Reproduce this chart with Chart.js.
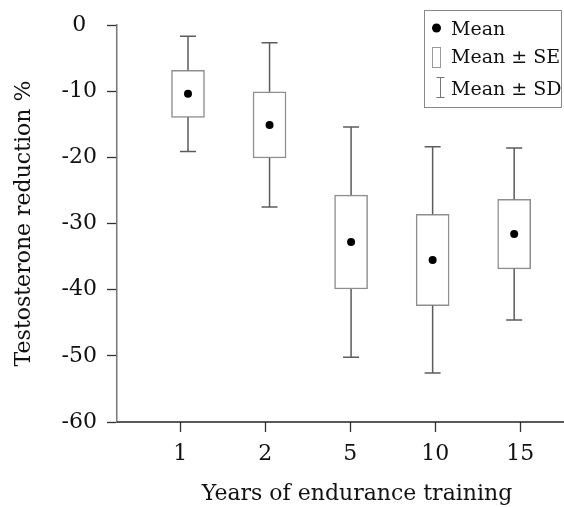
<!DOCTYPE html>
<html>
<head>
<meta charset="utf-8">
<script src="https://cdn.jsdelivr.net/npm/chart.js@4/dist/chart.umd.min.js"></script>
<style>
  html, body { margin: 0; padding: 0; background: #fff; overflow: hidden; }
  #wrap { width: 564px; height: 507px; }
</style>
</head>
<body>
<div id="wrap"><canvas id="chart" width="564" height="507"></canvas></div>
<script>
// Years of endurance training (groups)
const years = ['1', '2', '5', '10', '15'];
// Mean testosterone reduction (%) per group
const meanReduction = [-10.4, -15.1, -32.8, -35.5, -31.6];
// Standard error of the mean (%)
const seReduction = [3.55, 5.0, 7.1, 6.9, 5.25];
// Standard deviation (%)
const sdReduction = [8.7, 12.4, 17.4, 17.1, 13.0];
// Y-axis tick values
const yTicks = [0, -10, -20, -30, -40, -50, -60];

const FONT = "'DejaVu Serif', serif";
const idx = years.map((_, i) => i);

// Whiskers (mean ± SD) and the framed key, drawn with the chart's scales
const extras = {
  id: 'extras',
  afterDatasetsDraw(chart) {
    const { ctx } = chart;
    const xs = chart.scales.xd, ys = chart.scales.y;
    ctx.save();
    ctx.strokeStyle = '#5c5c5c';
    ctx.lineWidth = 1.5;
    const cap = 8;
    idx.forEach(i => {
      const x = xs.getPixelForValue(i);
      const m = meanReduction[i], se = seReduction[i], sd = sdReduction[i];
      const yBoxTop = ys.getPixelForValue(m + se);
      const yBoxBot = ys.getPixelForValue(m - se);
      const yTop = ys.getPixelForValue(m + sd);
      const yBot = ys.getPixelForValue(m - sd);
      ctx.beginPath();
      ctx.moveTo(x, yBoxTop); ctx.lineTo(x, yTop);
      ctx.moveTo(x - cap, yTop); ctx.lineTo(x + cap, yTop);
      ctx.moveTo(x, yBoxBot); ctx.lineTo(x, yBot);
      ctx.moveTo(x - cap, yBot); ctx.lineTo(x + cap, yBot);
      ctx.stroke();
    });
    ctx.restore();
  },
  afterDraw(chart) {
    const { ctx } = chart;
    const area = chart.chartArea;
    ctx.save();
    // x baseline across the full width
    ctx.strokeStyle = '#222';
    ctx.lineWidth = 1.3;
    ctx.beginPath();
    ctx.moveTo(area.left, area.bottom);
    ctx.lineTo(chart.width, area.bottom);
    ctx.stroke();
    // key frame
    ctx.strokeStyle = '#888';
    ctx.lineWidth = 1;
    ctx.strokeRect(424.5, 10.5, 137, 97);
    // mean dot
    ctx.fillStyle = '#000';
    ctx.beginPath();
    ctx.arc(436.5, 28, 4.5, 0, Math.PI * 2);
    ctx.fill();
    // SE box
    ctx.strokeStyle = '#999';
    ctx.strokeRect(432.5, 47.5, 8, 20);
    // SD bar
    ctx.strokeStyle = '#777';
    ctx.beginPath();
    ctx.moveTo(440.5, 77); ctx.lineTo(440.5, 98);
    ctx.moveTo(436.5, 77.5); ctx.lineTo(444.5, 77.5);
    ctx.moveTo(436.5, 97.5); ctx.lineTo(444.5, 97.5);
    ctx.stroke();
    // key labels
    ctx.fillStyle = '#111';
    ctx.font = '19px ' + FONT;
    ctx.textAlign = 'left';
    ctx.textBaseline = 'alphabetic';
    ctx.fillText('Mean', 451, 35);
    ctx.fillText('Mean \u00B1 SE', 451, 63);
    ctx.fillText('Mean \u00B1 SD', 451, 95);
    // x-axis title
    ctx.font = '22px ' + FONT;
    ctx.textAlign = 'center';
    ctx.fillText('Years of endurance training', 357, 500);
    ctx.restore();
  }
};

new Chart(document.getElementById('chart'), {
  type: 'bar',
  data: {
    datasets: [
      {
        type: 'scatter',
        label: 'Mean',
        xAxisID: 'xd',
        yAxisID: 'y',
        data: idx.map(i => ({ x: i, y: meanReduction[i] })),
        pointRadius: 4,
        pointBackgroundColor: '#000',
        pointBorderWidth: 0
      },
      {
        type: 'bar',
        label: 'Mean \u00B1 SE',
        xAxisID: 'xd',
        yAxisID: 'y',
        data: idx.map(i => ({ x: i, y: [meanReduction[i] - seReduction[i], meanReduction[i] + seReduction[i]] })),
        backgroundColor: '#fff',
        borderColor: '#8e8e8e',
        borderWidth: 1.5,
        borderSkipped: false,
        barThickness: 33
      }
    ]
  },
  options: {
    responsive: false,
    animation: false,
    devicePixelRatio: 1,
    events: [],
    layout: { padding: { top: 25, right: 0, bottom: 0, left: 0 } },
    plugins: { legend: { display: false }, tooltip: { enabled: false } },
    scales: {
      x: {
        type: 'linear',
        position: 'bottom',
        offset: false,
        min: -0.745,
        max: 4.467,
        afterBuildTicks: s => { s.ticks = idx.map(v => ({ value: v })); },
        afterFit: s => { s.height = 85; },
        ticks: {
          callback: v => years[v],
          font: { family: FONT, size: 22 },
          color: '#111',
          padding: 9,
          maxRotation: 0
        },
        grid: { offset: false, drawOnChartArea: false, tickLength: 10, tickColor: '#333', tickWidth: 1.3 },
        border: { display: false }
      },
      xd: {
        type: 'linear',
        display: false,
        offset: false,
        grid: { offset: false },
        min: -0.8706,
        max: 4.562
      },
      y: {
        type: 'linear',
        position: 'left',
        min: -60,
        max: 0,
        afterBuildTicks: s => { s.ticks = yTicks.map(v => ({ value: v })); },
        afterFit: s => { s.width = 117; },
        ticks: {
          font: { family: FONT, size: 22 },
          color: '#111',
          padding: 10,
          crossAlign: 'center'
        },
        grid: { drawOnChartArea: false, tickLength: 10, tickColor: '#333', tickWidth: 1.3 },
        border: { color: '#777', width: 1.5 },
        title: {
          display: true,
          text: 'Testosterone reduction %',
          font: { family: FONT, size: 22 },
          color: '#111',
          padding: { top: 11, bottom: 0 }
        }
      }
    }
  },
  plugins: [extras]
});
</script>
</body>
</html>
